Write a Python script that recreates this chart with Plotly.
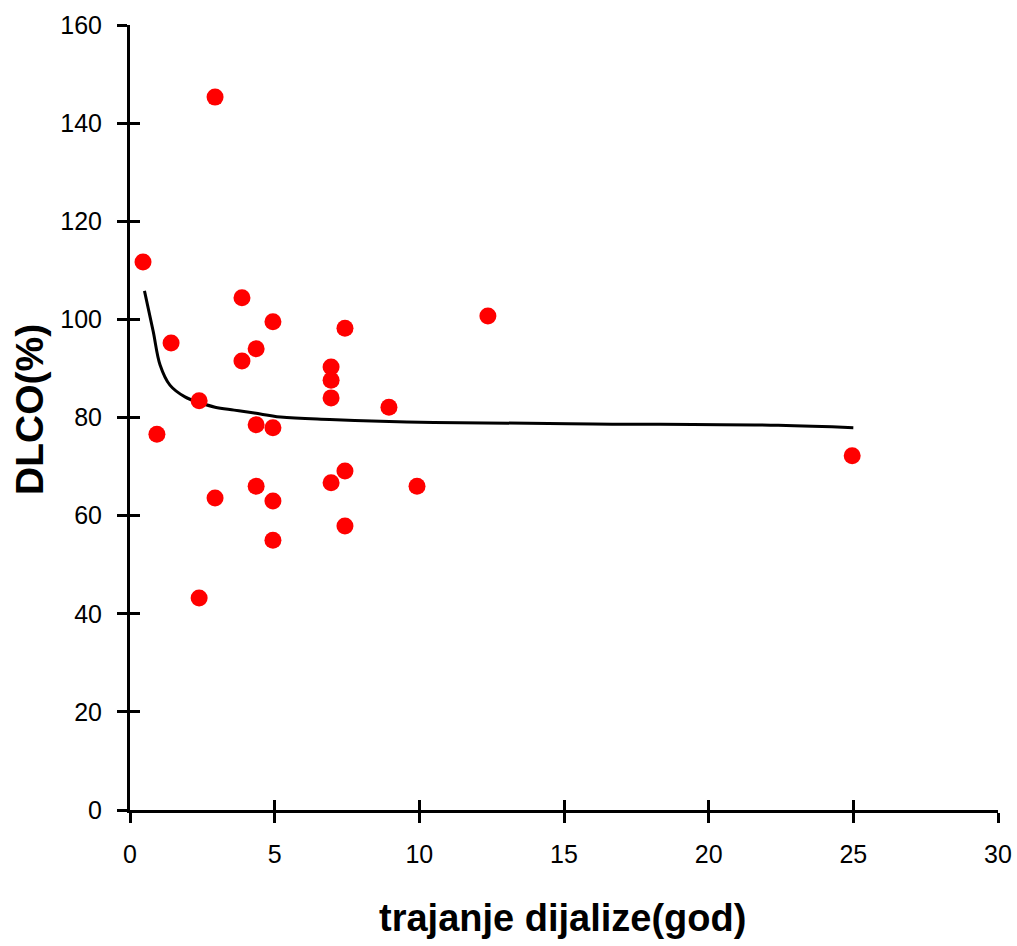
import plotly.graph_objects as go

# scatter data: dialysis duration (years) vs DLCO (%)
x_pts = [0.45, 2.94, 1.42, 0.93, 2.39, 2.39, 2.94, 3.87, 3.87, 4.36, 4.36, 4.36,
         4.94, 4.94, 4.94, 4.94, 6.95, 6.95, 6.95, 6.95, 7.43, 7.43, 7.43, 8.95,
         9.92, 12.37, 24.96]
y_pts = [111.7, 145.3, 95.2, 76.6, 83.4, 43.2, 63.6, 104.4, 91.5, 94.0, 78.5, 66.0,
         99.5, 77.9, 63.0, 55.0, 90.3, 87.6, 84.0, 66.7, 98.2, 69.1, 57.9, 82.1,
         66.0, 100.7, 72.2]

# trend line
x_fit = [0.5, 0.8, 1.04, 1.38, 1.9, 2.42, 2.94, 3.6, 4.3, 5.2, 6.9, 10.5, 16.0, 22.4, 25.0]
y_fit = [105.8, 97.6, 90.7, 86.6, 84.2, 83.0, 82.1, 81.5, 80.9, 80.1, 79.6, 79.0, 78.7, 78.4, 77.9]

x_ticks = [0, 5, 10, 15, 20, 25, 30]
y_ticks = [0, 20, 40, 60, 80, 100, 120, 140, 160]

x_title = "trajanje dijalize(god)"
y_title = "DLCO(%)"

fig = go.Figure()
fig.add_trace(go.Scatter(x=x_fit, y=y_fit, mode="lines",
                         line=dict(color="black", width=3, shape="spline"),
                         hoverinfo="skip", showlegend=False))
fig.add_trace(go.Scatter(x=x_pts, y=y_pts, mode="markers",
                         marker=dict(color="#ff0000", size=17, line=dict(width=0)),
                         showlegend=False))
# invisible trace on secondary axes for the inner half of the crossing ticks
fig.add_trace(go.Scatter(x=[0], y=[0], xaxis="x2", yaxis="y2", mode="markers",
                         marker=dict(opacity=0), hoverinfo="skip", showlegend=False))

font_tick = dict(family="Liberation Sans, Arial", size=25, color="black")
fig.update_layout(
    width=1017, height=946,
    paper_bgcolor="white", plot_bgcolor="white",
    margin=dict(l=130, r=19, t=25, b=136, autoexpand=False),
    xaxis=dict(range=[0, 30], tickvals=x_ticks, showgrid=False, zeroline=False,
               showline=True, linecolor="black", linewidth=3, automargin=False,
               ticks="outside", ticklen=10, tickwidth=3, tickcolor="black",
               tickfont=font_tick, ticklabelstandoff=10),
    yaxis=dict(range=[0, 160], tickvals=y_ticks, showgrid=False, zeroline=False,
               showline=True, linecolor="black", linewidth=3, automargin=False,
               ticks="outside", ticklen=10, tickwidth=3, tickcolor="black",
               tickfont=font_tick, ticklabelstandoff=10),
    xaxis2=dict(range=[0, 30], tickvals=x_ticks, overlaying="x", anchor="y2",
                showticklabels=False, showgrid=False, zeroline=False, showline=False,
                ticks="inside", ticklen=10, tickwidth=3, tickcolor="black"),
    yaxis2=dict(range=[0, 160], tickvals=y_ticks, overlaying="y", anchor="x2",
                showticklabels=False, showgrid=False, zeroline=False, showline=False,
                ticks="inside", ticklen=10, tickwidth=3, tickcolor="black"),
    annotations=[
        dict(text="<b>" + x_title + "</b>", xref="paper", yref="paper",
             x=0.4977, y=-0.1376, xanchor="center", yanchor="middle",
             showarrow=False, font=dict(family="Liberation Sans, Arial", size=38, color="black")),
        dict(text="<b>" + y_title + "</b>", xref="paper", yref="paper",
             x=-0.1152, y=0.5096, xanchor="center", yanchor="middle",
             textangle=-90, showarrow=False,
             font=dict(family="Liberation Sans, Arial", size=39, color="black")),
    ],
)

fig.write_html("out.html", config={"displayModeBar": False},
               post_script="document.body.style.margin='0';")
